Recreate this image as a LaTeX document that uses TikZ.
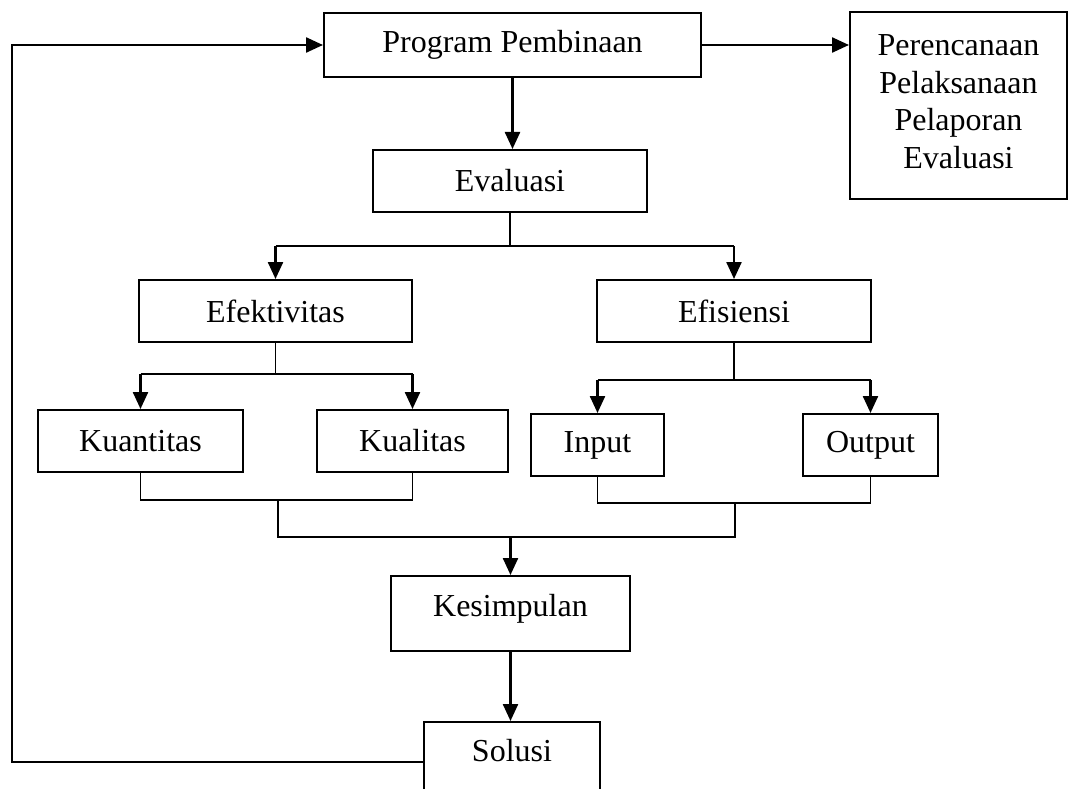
\documentclass[tikz,border=0pt]{standalone}
\usepackage{fontspec}
\setmainfont{Liberation Serif}
\usetikzlibrary{arrows.meta}
\begin{document}
\begin{tikzpicture}[x=1pt,y=-1pt,
 box/.style={draw, line width=2pt, inner sep=0pt, font=\fontsize{32}{37.5}\selectfont},
 plain/.style={line width=1.6pt},
 arr/.style={line width=2.4pt, -{Triangle[length=17pt,width=15pt]}},
]
\useasboundingbox (0,0) rectangle (1069,789);
% boxes
\node[box, minimum width=377, minimum height=64] (prog) at (512.5,45) {Program Pembinaan};
\node[box, minimum width=217, minimum height=187, align=center, text depth=8pt] (plan) at (958.5,105.5) {Perencanaan\\Pelaksanaan\\Pelaporan\\Evaluasi};
\node[box, minimum width=274, minimum height=62] (eval) at (510,181) {Evaluasi};
\node[box, minimum width=273, minimum height=62] (efek) at (275.5,311) {Efektivitas};
\node[box, minimum width=274, minimum height=62] (efis) at (734,311) {Efisiensi};
\node[box, minimum width=205, minimum height=62] (kuan) at (140.5,441) {Kuantitas};
\node[box, minimum width=191, minimum height=62] (kual) at (412.5,441) {Kualitas};
\node[box, minimum width=133, minimum height=62] (inp) at (597.5,445) {Input};
\node[box, minimum width=135, minimum height=62] (outp) at (870.5,445) {Output};
\node[box, minimum width=239, minimum height=75, text height=22pt, text depth=17pt] (kes) at (510.5,613.5) {Kesimpulan};
\node[box, minimum width=176, minimum height=80, label={[font=\fontsize{32}{37.5}\selectfont, yshift=11pt, name=soltext]center:Solusi}] (sol) at (512,762) {};
% junction coordinates
\coordinate (eb) at (510,246);
\coordinate (fb) at (275.5,374);
\coordinate (sb) at (734,380);
\coordinate (jl) at (278,500);
\coordinate (jr) at (735,503);
\coordinate (jl2) at (278,537);
\coordinate (jr2) at (735,537);
\coordinate (fbk) at (12,762);
% top arrows
\draw[arr] (prog.east) -- (plan.west |- prog.east);
\draw[arr] (prog.south) -- (prog.south |- eval.north);
% evaluasi branch
\draw[plain] (eval.south) -- (eb);
\draw[plain] (efek.north |- eb) -- (efis.north |- eb);
\draw[arr] (efek.north |- eb) -- (efek.north);
\draw[arr] (efis.north |- eb) -- (efis.north);
% efektivitas branch
\draw[plain] (efek.south) -- (fb);
\draw[plain] (kuan.north |- fb) -- (kual.north |- fb);
\draw[arr] (kuan.north |- fb) -- (kuan.north);
\draw[arr] (kual.north |- fb) -- (kual.north);
% efisiensi branch
\draw[plain] (efis.south) -- (sb);
\draw[plain] (inp.north |- sb) -- (outp.north |- sb);
\draw[arr] (inp.north |- sb) -- (inp.north);
\draw[arr] (outp.north |- sb) -- (outp.north);
% merges
\draw[plain] (kuan.south) |- (jl) -| (kual.south);
\draw[plain] (inp.south) |- (jr) -| (outp.south);
\draw[plain] (jl) -- (jl2) -- (jr2) -- (jr);
\draw[arr] (kes.north |- jl2) -- (kes.north);
\draw[arr] (kes.south) -- (kes.south |- sol.north);
% feedback
\draw[arr] (sol.west) -- (fbk) |- (prog.west);
\end{tikzpicture}
\end{document}
